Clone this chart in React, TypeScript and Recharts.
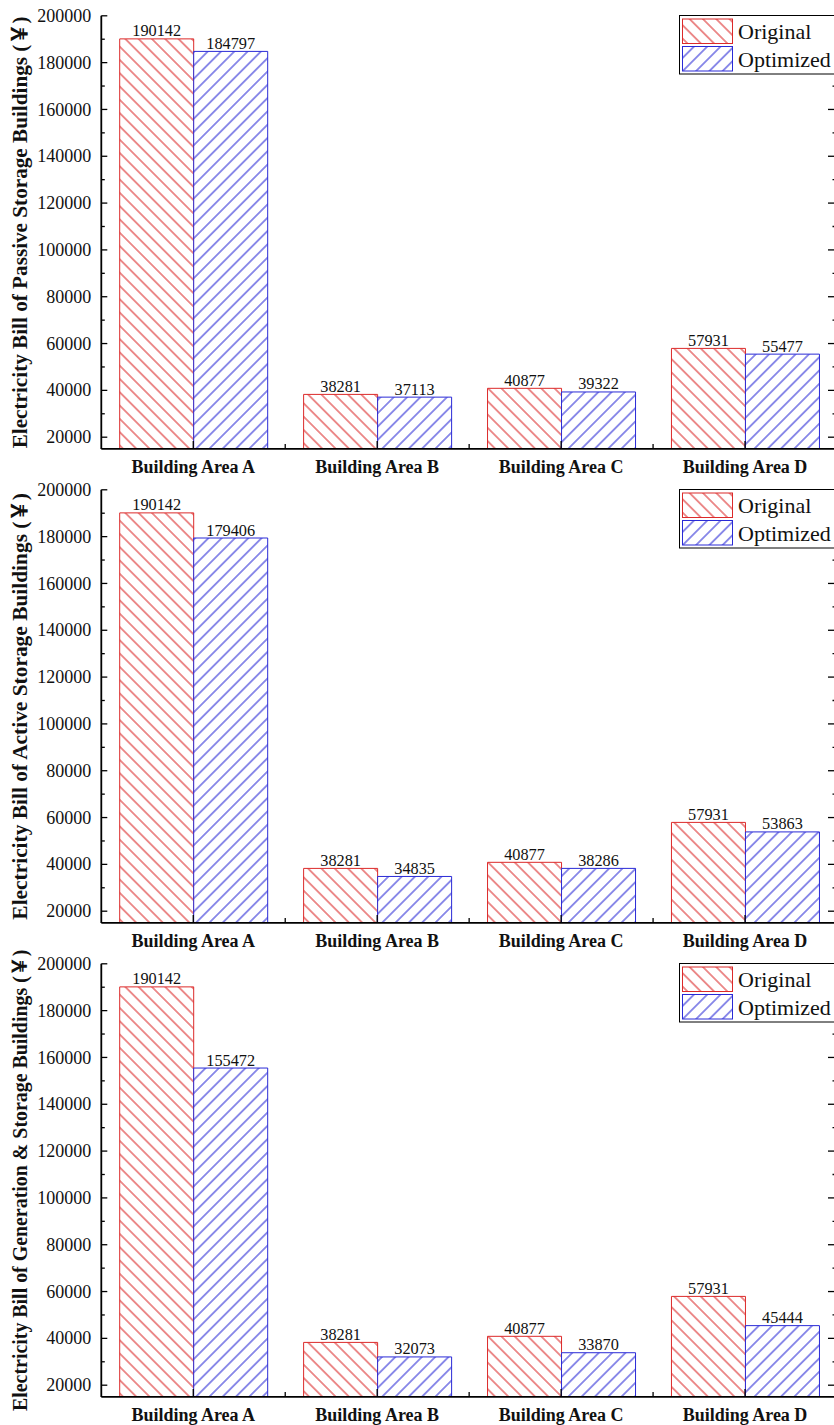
import React from 'react';
import { BarChart, Bar, XAxis, YAxis, LabelList } from 'recharts';

const categories = ['Building Area A', 'Building Area B', 'Building Area C', 'Building Area D'];
const originalBill = [190142, 38281, 40877, 57931];
const passiveOptimized = [184797, 37113, 39322, 55477];
const activeOptimized = [179406, 34835, 38286, 53863];
const generationOptimized = [155472, 32073, 33870, 45444];
const yTicks = [
  20000, 30000, 40000, 50000, 60000, 70000, 80000, 90000, 100000, 110000,
  120000, 130000, 140000, 150000, 160000, 170000, 180000, 190000, 200000,
];
const yDomain = [15000, 200000];
const seriesNames = ['Original', 'Optimized'];
const panelTitles = [
  'Electricity Bill of Passive Storage Buildings (￥)',
  'Electricity Bill of Active Storage Buildings (￥)',
  'Electricity Bill of Generation & Storage Buildings (￥)',
];
const panelOptimized = [passiveOptimized, activeOptimized, generationOptimized];
const titleSizes = [21.2, 21.4, 19.9];

const SERIF = '"Liberation Serif", "Times New Roman", "Noto Sans CJK SC", serif';
const RED = '#dc2a2a';
const BLUE = '#2a2ad6';

const PANEL_STEP = 473.75;
const CHART_W = 840;
const CHART_H = 482;
const TOP = 15.8;
const LEFT_W = 101.3;
const RIGHT_W = 3;
const PLOT_BOTTOM = 448.9;
const BOTTOM_H = CHART_H - PLOT_BOTTOM;
const RIGHT_X = CHART_W - RIGHT_W;
const BAND = (RIGHT_X - LEFT_W) / categories.length;
const HATCH = 9.4;

function LeftTick(props: any) {
  const { y, payload } = props;
  const v = payload.value as number;
  const major = v % 20000 === 0;
  return (
    <g>
      <line x1={LEFT_W} x2={LEFT_W + (major ? 6 : 3.5)} y1={y} y2={y} stroke="#000" strokeWidth={1.3} />
      {major && (
        <text x={LEFT_W - 10} y={y} dy="0.34em" textAnchor="end" fontSize={18} fontFamily={SERIF} fill="#111">
          {v}
        </text>
      )}
    </g>
  );
}

function RightTick(props: any) {
  const { y, payload } = props;
  const v = payload.value as number;
  const major = v % 20000 === 0;
  return <line x1={RIGHT_X} x2={RIGHT_X - (major ? 9 : 4.5)} y1={y} y2={y} stroke="#000" strokeWidth={1.3} />;
}

function BottomTick(props: any) {
  const { x, payload } = props;
  return (
    <g>
      <line x1={x} x2={x} y1={PLOT_BOTTOM} y2={PLOT_BOTTOM - 8} stroke="#000" strokeWidth={1.3} />
      <line x1={x + BAND / 2} x2={x + BAND / 2} y1={PLOT_BOTTOM} y2={PLOT_BOTTOM - 5} stroke="#000" strokeWidth={1.3} />
      <text x={x} y={PLOT_BOTTOM + 24} textAnchor="middle" fontSize={18} fontWeight="bold" fontFamily={SERIF} fill="#111">
        {payload.value}
      </text>
    </g>
  );
}

function TopTick(props: any) {
  const { x } = props;
  return (
    <g>
      <line x1={x} x2={x} y1={TOP} y2={TOP + 8} stroke="#000" strokeWidth={1.3} />
      <line x1={x + BAND / 2} x2={x + BAND / 2} y1={TOP} y2={TOP + 4.5} stroke="#000" strokeWidth={1.3} />
    </g>
  );
}

function Patterns({ id }: { id: string }) {
  return (
    <defs>
      <pattern id={`red-${id}`} patternUnits="userSpaceOnUse" width={HATCH} height={HATCH} patternTransform="rotate(45)">
        <rect width={HATCH} height={HATCH} fill="#fff" />
        <line x1={0} x2={HATCH} y1={HATCH / 2} y2={HATCH / 2} stroke={RED} strokeWidth={1.05} />
      </pattern>
      <pattern id={`blue-${id}`} patternUnits="userSpaceOnUse" width={HATCH} height={HATCH} patternTransform="rotate(-45)">
        <rect width={HATCH} height={HATCH} fill="#fff" />
        <line x1={0} x2={HATCH} y1={HATCH / 2} y2={HATCH / 2} stroke={BLUE} strokeWidth={1.05} />
      </pattern>
    </defs>
  );
}

function Panel({ index }: { index: number }) {
  const optimized = panelOptimized[index];
  const data = categories.map((name, i) => ({ name, original: originalBill[i], optimized: optimized[i] }));
  const title = panelTitles[index];
  const cy = (TOP + PLOT_BOTTOM) / 2;
  return (
    <div style={{ position: 'absolute', left: 0, top: index * PANEL_STEP, width: CHART_W, height: CHART_H }}>
      <BarChart
        width={CHART_W}
        height={CHART_H}
        data={data}
        margin={{ top: TOP, right: 0, bottom: 0, left: 0 }}
        barCategoryGap="10%"
        barGap={0}
      >
        <Patterns id={`p${index}`} />
        <XAxis
          dataKey="name"
          xAxisId="bottom"
          height={BOTTOM_H}
          axisLine={{ stroke: '#000', strokeWidth: 1.8 }}
          tickLine={false}
          tickSize={0}
          tick={<BottomTick />}
          interval={0}
        />
        <XAxis
          dataKey="name"
          xAxisId="top"
          orientation="top"
          height={0}
          axisLine={{ stroke: '#000', strokeWidth: 1.8 }}
          tickLine={false}
          tickSize={0}
          tick={<TopTick />}
          interval={0}
        />
        <YAxis
          yAxisId="left"
          type="number"
          domain={yDomain}
          ticks={yTicks}
          interval={0}
          width={LEFT_W}
          axisLine={{ stroke: '#000', strokeWidth: 1.8 }}
          tickLine={false}
          tickSize={0}
          tick={<LeftTick />}
          allowDataOverflow
          label={() => (
            <text
              x={20}
              y={cy}
              transform={`rotate(-90 20 ${cy})`}
              textAnchor="middle"
              dominantBaseline="central"
              fontSize={titleSizes[index]}
              fontWeight="bold"
              fontFamily={SERIF}
              fill="#111"
            >
              {title}
            </text>
          )}
        />
        <YAxis
          yAxisId="right"
          orientation="right"
          type="number"
          domain={yDomain}
          ticks={yTicks}
          interval={0}
          width={RIGHT_W}
          axisLine={{ stroke: '#000', strokeWidth: 1.8 }}
          tickLine={false}
          tickSize={0}
          tick={<RightTick />}
          allowDataOverflow
        />
        <Bar
          xAxisId="bottom"
          yAxisId="left"
          dataKey="original"
          name={seriesNames[0]}
          fill={`url(#red-p${index})`}
          stroke={RED}
          strokeWidth={1}
          isAnimationActive={false}
        >
          <LabelList dataKey="original" position="top" offset={2.5} fill="#111" fontSize={16.3} fontFamily={SERIF} />
        </Bar>
        <Bar
          xAxisId="bottom"
          yAxisId="left"
          dataKey="optimized"
          name={seriesNames[1]}
          fill={`url(#blue-p${index})`}
          stroke={BLUE}
          strokeWidth={1}
          isAnimationActive={false}
        >
          <LabelList dataKey="optimized" position="top" offset={2.5} fill="#111" fontSize={16.3} fontFamily={SERIF} />
        </Bar>
      </BarChart>
      <LegendBox id={`l${index}`} />
    </div>
  );
}

function LegendBox({ id }: { id: string }) {
  const colors = [RED, BLUE];
  return (
    <svg
      style={{ position: 'absolute', left: 679, top: TOP - 0.8 }}
      width={170}
      height={60}
    >
      <Patterns id={id} />
      <rect x={0.5} y={0.5} width={200} height={58.5} fill="#fff" stroke="#000" strokeWidth={1} />
      {seriesNames.map((n, i) => (
        <g key={n}>
          <rect
            x={3.5}
            y={4 + i * 27.5}
            width={50}
            height={24.5}
            fill={`url(#${i === 0 ? 'red' : 'blue'}-${id})`}
            stroke={colors[i]}
            strokeWidth={1}
          />
          <text x={59} y={24.3 + i * 27.4} fontSize={22} fontFamily={SERIF} fill="#111">
            {n}
          </text>
        </g>
      ))}
    </svg>
  );
}

export default function App() {
  return (
    <div
      style={{
        position: 'absolute',
        left: 0,
        top: 0,
        width: 834,
        height: 1425,
        overflow: 'hidden',
        background: '#fff',
        fontFamily: SERIF,
      }}
    >
      {[0, 1, 2].map((i) => (
        <Panel key={i} index={i} />
      ))}
    </div>
  );
}
